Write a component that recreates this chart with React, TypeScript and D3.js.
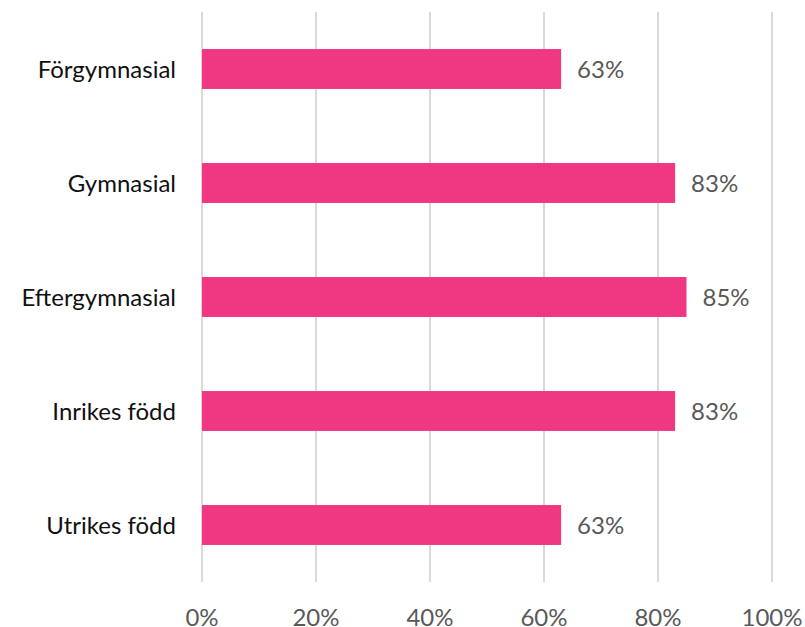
import React from "react";
import * as d3 from "d3";

const categories = ["Förgymnasial", "Gymnasial", "Eftergymnasial", "Inrikes född", "Utrikes född"];
const values = [0.63, 0.83, 0.85, 0.83, 0.63];
const tickValues = [0, 0.2, 0.4, 0.6, 0.8, 1.0];

const W = 805;
const H = 627;
const FONT = "Lato, 'Open Sans', sans-serif";

export default function App() {
  const x = d3.scaleLinear().domain([0, 1]).range([202, 772]);
  const y = d3.scaleBand<string>().domain(categories).range([12, 582]).paddingInner(0.65).paddingOuter(0.325);
  const fmt = d3.format(".0%");
  return (
    <svg width={W} height={H} style={{ position: "absolute", left: 0, top: 0, background: "#fff" }}>
      {tickValues.map((t) => (
        <line key={"g" + t} x1={x(t)} x2={x(t)} y1={12} y2={582} stroke="#d9d9d9" strokeWidth={2} />
      ))}
      {categories.map((c, i) => (
        <g key={c}>
          <rect x={x(0)} y={y(c)!} width={x(values[i]) - x(0)} height={y.bandwidth()} fill="#EF3782" />
          <text x={x(values[i]) + 16} y={y(c)! + y.bandwidth() / 2 + 9} fontFamily={FONT} fontWeight={400} fontSize={24} fill="#595959">
            {fmt(values[i])}
          </text>
          <text x={176} y={y(c)! + y.bandwidth() / 2 + 9} textAnchor="end" fontFamily={FONT} fontWeight={400} fontSize={24} fill="#111">
            {c}
          </text>
        </g>
      ))}
      {tickValues.map((t) => (
        <text key={"t" + t} x={x(t)} y={626} textAnchor="middle" fontFamily={FONT} fontWeight={400} fontSize={24} fill="#595959">
          {fmt(t)}
        </text>
      ))}
    </svg>
  );
}
